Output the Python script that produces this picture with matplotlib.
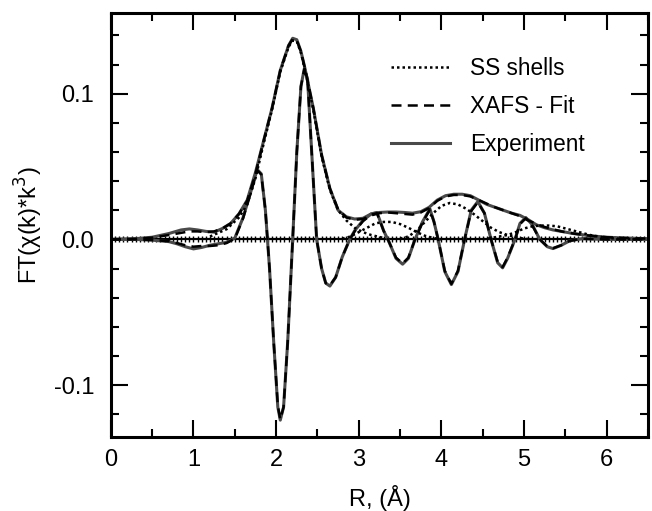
import numpy as np
import matplotlib
matplotlib.use("Agg")
import matplotlib.pyplot as plt
from matplotlib.ticker import MultipleLocator

plt.rcParams['font.family'] = ['Liberation Sans', 'DejaVu Sans']

# |FT| of the experimental spectrum
r_mag = [0.0, 0.3, 0.5, 0.7, 0.85, 0.95, 1.05, 1.15, 1.25, 1.35, 1.45, 1.55, 1.65,
         1.75, 1.85, 1.95, 2.05, 2.15, 2.2, 2.25, 2.3, 2.35, 2.45, 2.55, 2.65, 2.75,
         2.85, 2.95, 3.05, 3.15, 3.25, 3.35, 3.45, 3.55, 3.65, 3.75, 3.85, 3.95, 4.05,
         4.15, 4.25, 4.35, 4.45, 4.55, 4.65, 4.75, 4.85, 4.95, 5.05, 5.15, 5.25, 5.35,
         5.45, 5.6, 5.8, 6.0, 6.2, 6.5]
mag_exp = [0.0, 0.0005, 0.0015, 0.004, 0.0065, 0.0072, 0.0065, 0.0055, 0.005, 0.0075,
           0.011, 0.0175, 0.027, 0.046, 0.068, 0.09, 0.116, 0.133, 0.138, 0.137, 0.129,
           0.117, 0.09, 0.058, 0.035, 0.02, 0.0155, 0.014, 0.0145, 0.0175, 0.0185,
           0.0188, 0.0188, 0.0185, 0.018, 0.019, 0.022, 0.027, 0.03, 0.031, 0.031, 0.03,
           0.027, 0.024, 0.022, 0.02, 0.018, 0.0165, 0.0135, 0.01, 0.008, 0.0065,
           0.0055, 0.004, 0.0025, 0.0015, 0.001, 0.0005]
mag_fit = [0.0, 0.0004, 0.0012, 0.003, 0.0045, 0.0055, 0.0055, 0.005, 0.0055, 0.0075,
           0.011, 0.0175, 0.0265, 0.045, 0.068, 0.09, 0.116, 0.133, 0.1375, 0.1365, 0.129,
           0.117, 0.09, 0.058, 0.035, 0.0205, 0.015, 0.0135, 0.014, 0.0165, 0.018,
           0.0185, 0.018, 0.0175, 0.017, 0.0185, 0.0215, 0.0265, 0.0295, 0.0305, 0.0305,
           0.0295, 0.027, 0.0245, 0.022, 0.02, 0.018, 0.016, 0.013, 0.0105, 0.0085, 0.007,
           0.0055, 0.004, 0.0025, 0.0015, 0.001, 0.0005]

# imaginary part of the FT
r_im = [0.0, 0.3, 0.5, 0.7, 0.8, 0.9, 1.0, 1.1, 1.2, 1.3, 1.4, 1.5, 1.6, 1.7, 1.77,
        1.82, 1.87, 1.92, 1.97, 2.02, 2.05, 2.09, 2.14, 2.2, 2.25, 2.3, 2.34, 2.38,
        2.43, 2.49, 2.55, 2.6, 2.65, 2.72, 2.8, 2.89, 2.95, 3.05, 3.15, 3.22, 3.3, 3.36,
        3.45, 3.53, 3.6, 3.68, 3.77, 3.86, 3.91, 3.96, 4.04, 4.12, 4.2, 4.28, 4.36,
        4.44, 4.52, 4.6, 4.68, 4.74, 4.8, 4.89, 4.95, 5.02, 5.1, 5.19, 5.28, 5.35,
        5.45, 5.55, 5.7, 6.0, 6.5]
im_exp = [0.0, 0.0, -0.0005, -0.0015, -0.003, -0.005, -0.0065, -0.0055, -0.004,
          -0.003, -0.002, 0.001, 0.015, 0.034, 0.048, 0.045, 0.02, -0.02, -0.07, -0.115,
          -0.124, -0.115, -0.07, 0.0, 0.06, 0.105, 0.117, 0.11, 0.06, 0.0, -0.02,
          -0.03, -0.032, -0.026, -0.012, 0.0, 0.006, 0.013, 0.0175, 0.0185, 0.006,
          -0.001, -0.013, -0.017, -0.013, 0.0, 0.012, 0.021, 0.012, 0.0, -0.022,
          -0.031, -0.022, 0.0, 0.02, 0.026, 0.018, 0.0, -0.016, -0.0195, -0.013, 0.0,
          0.011, 0.015, 0.01, 0.0, -0.005, -0.0063, -0.004, -0.001, 0.0005, 0.0, 0.0]
im_fit = [0.0, 0.0, -0.0004, -0.0012, -0.0025, -0.004, -0.005, -0.0045, -0.0045,
          -0.004, -0.0025, 0.0005, 0.0145, 0.0335, 0.0475, 0.0445, 0.02, -0.02, -0.07,
          -0.114, -0.1235, -0.115, -0.07, 0.0, 0.06, 0.105, 0.1165, 0.11, 0.06, 0.0,
          -0.02, -0.03, -0.0315, -0.026, -0.012, 0.0, 0.0055, 0.0125, 0.017, 0.018,
          0.006, -0.001, -0.0125, -0.0165, -0.0125, 0.0, 0.0115, 0.0205, 0.012,
          0.0, -0.0215, -0.0305, -0.0215, 0.0, 0.0195, 0.0255, 0.018, 0.0, -0.0155,
          -0.019, -0.0125, 0.0, 0.0105, 0.0145, 0.0095, 0.0, -0.0048, -0.006, -0.004,
          -0.001, 0.0005, 0.0, 0.0]

# single-scattering shell magnitudes
r_ss1 = [1.2, 1.4, 1.55, 1.65, 1.75, 1.85, 1.95, 2.05, 2.15, 2.2, 2.25, 2.3, 2.35,
         2.45, 2.55, 2.65, 2.75, 2.85, 2.95, 3.05, 3.15, 3.3]
ss1 = [0.002, 0.007, 0.015, 0.024, 0.042, 0.066, 0.089, 0.115, 0.132, 0.1365, 0.136,
       0.128, 0.116, 0.089, 0.057, 0.034, 0.02, 0.013, 0.008, 0.005, 0.003, 0.001]
r_ss2 = [2.8, 2.9, 3.0, 3.1, 3.2, 3.3, 3.4, 3.5, 3.6, 3.7, 3.8, 3.9, 4.0]
ss2 = [0.0005, 0.002, 0.005, 0.008, 0.011, 0.012, 0.012, 0.0105, 0.008, 0.005,
       0.0025, 0.001, 0.0]
r_ss3 = [3.5, 3.6, 3.7, 3.8, 3.9, 4.0, 4.1, 4.2, 4.3, 4.4, 4.5, 4.6, 4.7, 4.8, 4.9,
         5.0, 5.1]
ss3 = [0.0005, 0.002, 0.006, 0.012, 0.018, 0.023, 0.025, 0.024, 0.021, 0.017, 0.0125,
       0.008, 0.005, 0.003, 0.0015, 0.0005, 0.0]
r_ss4 = [4.5, 4.6, 4.7, 4.8, 4.9, 5.0, 5.1, 5.2, 5.3, 5.4, 5.5, 5.6, 5.7, 5.8, 5.9,
         6.0, 6.2, 6.4]
ss4 = [0.0, 0.001, 0.002, 0.003, 0.005, 0.0075, 0.009, 0.0095, 0.0095, 0.009,
       0.0075, 0.006, 0.0045, 0.003, 0.002, 0.001, 0.0003, 0.0]

r_base = np.round(np.arange(0.0, 6.51, 0.05), 2)
base = np.zeros_like(r_base)

fig = plt.figure(figsize=(6.52, 5.11), dpi=100)
ax = fig.add_axes([0.170, 0.145, 0.824, 0.830])

exp_kw = dict(color='#4a4a4a', lw=2.2, ls='-')
fit_kw = dict(color='black', lw=1.8, ls=(0, (4, 2.5)))
ss_kw = dict(color='black', lw=1.8, ls=(0, (1, 1.2)))

ax.plot(r_base, base, color='black', lw=1.6, marker='|', ms=4, mew=1.0)

ax.plot(r_mag, mag_exp, **exp_kw, label='Experiment')
ax.plot(r_im, im_exp, **exp_kw)
ax.plot(r_mag, mag_fit, **fit_kw, label='XAFS - Fit')
ax.plot(r_im, im_fit, **fit_kw)
ax.plot(r_ss1, ss1, **ss_kw, label='SS shells')
ax.plot(r_ss2, ss2, **ss_kw)
ax.plot(r_ss3, ss3, **ss_kw)
ax.plot(r_ss4, ss4, **ss_kw)

ax.set_xlim(0, 6.5)
ax.set_ylim(-0.1355, 0.1555)
ax.xaxis.set_major_locator(MultipleLocator(1))
ax.xaxis.set_minor_locator(MultipleLocator(0.5))
ax.yaxis.set_major_locator(MultipleLocator(0.1))
ax.yaxis.set_minor_locator(MultipleLocator(0.02))
ax.yaxis.set_major_formatter(plt.FuncFormatter(lambda v, p: f"{v:.1f}".replace('-0.0', '0.0')))
ax.tick_params(which='both', direction='in', top=True, right=True, width=1.5,
               labelsize=17, pad=9)
ax.tick_params(axis='y', which='major', pad=12)
ax.tick_params(which='major', length=12)
ax.tick_params(which='minor', length=6)
for s in ax.spines.values():
    s.set_linewidth(2.2)

ax.set_xlabel('R, (Å)', fontsize=17, labelpad=10)
ax.set_ylabel('FT(χ(k)*k$^3$)', fontsize=17, labelpad=6)

handles, labels = ax.get_legend_handles_labels()
ax.legend(handles[::-1], labels[::-1], loc='upper left', bbox_to_anchor=(0.50, 0.922),
          frameon=False, fontsize=16.3, handlelength=2.6, handletextpad=0.9,
          labelspacing=0.66, borderpad=0)

fig.savefig('out.png', dpi=100)
